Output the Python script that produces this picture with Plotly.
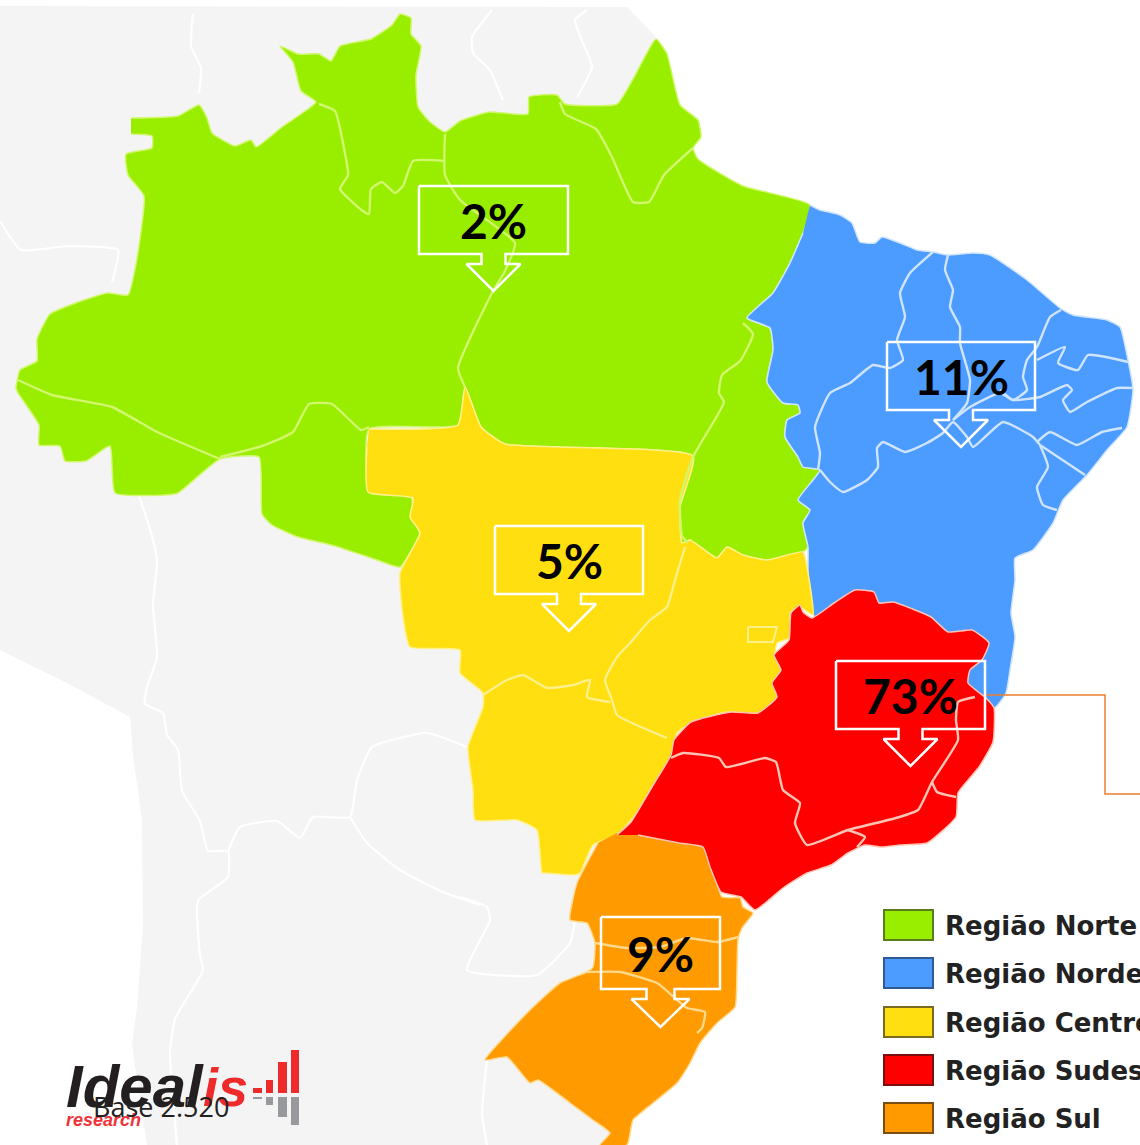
import plotly.graph_objects as go

# ---------- data ----------
REGION_NAMES = ["Região Norte", "Região Nordeste", "Região Centro-Oeste", "Região Sudeste", "Região Sul"]
REGION_PCT = [2, 11, 5, 73, 9]
BASE_LABEL = "Base 2.520"

NORTE = [(131,118),(178,116),(199,105),(207,118),(212,133),(235,146),(251,140),(256,147),(282,127),(301,114),(316,102),(301,91),(293,62),(280,46),(298,54),(319,54),(331,61),(340,46),(371,39),(392,25),(400,14),(411,18),(411,34),(421,46),(416,75),(418,107),(429,121),(445,132),(460,121),(489,112),(528,114),(529,97),(557,95),(565,104),(617,104),(633,79),(656,39),(667,54),(680,105),(698,120),(701,137),(693,148),(698,159),(743,186),(810,205),(803,233),(790,263),(773,293),(747,318),(770,328),(773,350),(767,382),(783,403),(798,405),(800,413),(787,420),(785,437),(798,457),(803,467),(820,470),(798,500),(810,510),(803,523),(808,547),(803,552),(767,560),(743,555),(727,547),(717,558),(690,540),(682,543),(680,507),(693,456),(505,444),(481,427),(465,387),(458,425),(369,429),(370,493),(411,496),(413,514),(418,529),(420,533),(400,567),(377,560),(335,546),(298,537),(272,525),(262,514),(259,457),(220,459),(178,493),(165,495),(115,493),(110,446),(86,461),(65,461),(60,446),(39,445),(39,425),(18,393),(16,388),(20,370),(37,361),(37,339),(50,314),(73,304),(107,293),(128,295),(136,264),(144,196),(128,175),(126,154),(152,148),(152,136),(131,134)]
NORDESTE = [(810,205),(820,210),(840,215),(852,223),(860,242),(875,243),(882,237),(900,243),(917,250),(933,252),(947,255),(973,253),(990,255),(1027,280),(1060,308),(1073,315),(1107,320),(1120,327),(1128,360),(1133,390),(1127,427),(1107,450),(1087,475),(1063,500),(1053,523),(1033,550),(1015,558),(1015,580),(1011,613),(1015,637),(1010,670),(1006,693),(994,708),(900,650),(813,615),(808,573),(808,547),(803,523),(810,510),(798,500),(820,470),(803,467),(798,457),(785,437),(787,420),(800,413),(798,405),(783,403),(767,382),(773,350),(770,328),(747,318),(773,293),(790,263),(803,233)]
CENTRO = [(369,429),(458,425),(465,387),(481,427),(505,444),(693,456),(680,507),(682,543),(690,540),(717,558),(727,547),(743,555),(767,560),(803,552),(808,573),(813,615),(800,607),(790,613),(792,637),(777,643),(775,657),(782,670),(773,683),(778,700),(760,715),(727,712),(693,722),(677,733),(672,755),(650,790),(637,813),(617,835),(593,845),(580,873),(575,875),(545,873),(542,873),(537,830),(517,820),(475,820),(473,790),(468,747),(483,707),(483,693),(460,673),(460,650),(410,647),(403,617),(400,573),(420,533),(410,517),(413,498),(368,492),(367,447)]
SUDESTE = [(617,835),(631,822),(652,787),(671,755),(674,740),(691,722),(731,712),(758,713),(777,697),(772,683),(781,670),(774,655),(789,640),(791,613),(800,605),(803,612),(812,618),(834,603),(855,590),(874,592),(879,603),(893,602),(931,617),(948,632),(972,630),(989,643),(982,660),(970,670),(968,683),(986,698),(994,708),(993,742),(979,767),(958,793),(956,817),(927,843),(900,845),(882,847),(865,845),(848,853),(831,865),(807,873),(783,888),(755,910),(741,897),(721,892),(710,867),(703,847),(679,843),(638,835)]
SUL = [(617,833),(640,833),(673,840),(703,847),(712,867),(722,897),(740,898),(743,907),(753,913),(742,928),(738,940),(737,970),(735,1007),(717,1023),(700,1043),(690,1063),(677,1083),(653,1103),(633,1120),(627,1145),(600,1145),(610,1133),(593,1120),(570,1103),(538,1080),(530,1083),(507,1057),(485,1060),(527,1013),(560,983),(587,972),(593,967),(595,943),(587,923),(570,920),(577,883),(587,863),(598,843)]
VIZINHOS = [(0,6),(627,7),(657,38),(700,200),(600,900),(610,1145),(147,1145),(132,1045),(137,1008),(143,926),(142,821),(133,754),(130,717),(67,683),(0,650)]

LINES_VIZINHOS = [
    [(139,496),(150,529),(157,560),(153,605),(157,657),(147,687),(145,704),(163,713),(167,735),(178,750),(182,791),(200,821),(208,851),(228,851),(228,877),(198,901),(200,955),(203,970),(175,1019),(170,1053),(177,1145)],
    [(228,851),(240,827),(277,821),(300,838),(313,817),(350,817),(357,780),(372,747),(427,733),(467,747)],
    [(350,817),(367,843),(400,870),(443,892),(480,905)],
    [(460,897),(487,907),(490,920),(467,970),(537,975),(570,943),(575,920)],
    [(487,1060),(482,1113),(487,1145)],
    [(193,14),(191,46),(201,68),(199,93)],
    [(0,221),(21,250),(68,246),(118,250),(112,282)],
    [(492,10),(472,37),(473,53),(490,70),(500,93),(503,100)],
    [(587,10),(575,20),(583,43),(592,67),(577,97)],
]
LINES_NORTE = [
    [(319,104),(335,111),(343,143),(348,175),(340,189),(363,211),(369,214),(371,189),(382,182),(395,193),(403,186),(413,161),(445,161)],
    [(445,134),(445,175),(460,200),(515,243),(505,271),(492,293),(458,368),(465,387)],
    [(560,102),(565,114),(596,129),(612,157),(633,202),(649,202),(664,175),(693,148)],
    [(18,380),(52,395),(112,407),(157,432),(220,459)],
    [(220,457),(262,446),(293,432),(309,404),(332,404),(361,430),(369,427)],
    [(743,323),(753,334),(740,361),(722,375),(719,393),(724,402),(693,457),(680,500),(682,536),(688,543)],
]
LINES_NORDESTE = [
    [(933,252),(910,273),(900,293),(905,317),(897,340),(903,360),(890,368),(873,365),(850,383),(830,393),(815,427),(820,453),(818,470)],
    [(948,255),(945,270),(953,290),(950,307),(960,327),(960,343),(970,380),(967,403),(953,420)],
    [(820,470),(830,482),(843,492),(867,480),(878,467),(877,448),(883,442),(905,452),(927,443),(943,433),(953,422),(967,437),(973,447),(1003,422),(1033,437),(1040,445)],
    [(1061,310),(1050,317),(1037,347),(1027,360),(1023,377),(1027,390),(1013,400),(1000,390)],
    [(953,420),(970,407),(1000,393),(1013,400),(1040,397),(1067,385),(1072,390),(1063,400),(1070,412),(1087,402),(1117,388),(1132,388)],
    [(1037,360),(1065,347),(1058,363),(1078,370),(1088,355),(1128,362)],
    [(1037,442),(1050,432),(1077,445),(1102,432),(1122,428)],
    [(1040,445),(1085,475)],
    [(1040,445),(1048,467),(1037,487),(1043,505),(1057,510)],
]
LINES_CENTRO = [
    [(685,547),(675,580),(667,607),(650,620),(630,643),(617,657),(605,680),(612,700),(617,715),(667,738)],
    [(483,695),(507,680),(523,675),(547,688),(573,685),(590,680),(587,697),(610,702)],
]
DF_OUTLINE = [(748,627),(777,627),(773,642),(748,642),(748,627)]
LINES_SUDESTE = [
    [(671,758),(683,753),(719,758),(726,767),(765,758),(776,762),(783,790),(800,803),(795,823),(807,845),(848,830),(896,818),(918,810),(932,782),(958,740),(956,720),(958,702),(975,697)],
    [(932,782),(937,792),(956,797)],
    [(848,830),(865,837),(857,847)],
]
LINES_SUL = [
    [(595,943),(627,948),(660,947),(687,938),(717,942),(738,937)],
    [(587,972),(620,972),(657,983),(687,1008),(705,1012),(702,1028),(697,1033)],
]

LEADER_X = [985, 1105, 1105, 1140]
LEADER_Y = [695, 695, 794, 794]

# callouts: left, top, right, bottom, stem half, head half, head y, tip y
CALLOUTS = [
    (419,186,568,254,12,27,264,291),
    (887,342,1035,410,12,27,420,447),
    (495,526,643,594,12,27,604,631),
    (836,661,985,729,12,27,739,766),
    (601,917,720,989,14,29,999,1027),
]

# ---------- style ----------
FILLS = ["#99EE00", "#4C9BFF", "#FFDF0F", "#FE0000", "#FF9A00"]
EDGES = ["#D2F76E", "#CFE4FF", "#FFF08A", "#FFC4B4", "#FFD98A"]
SWATCH_EDGE = ["#5C7A1E", "#2F5A96", "#7A6A1E", "#7A1010", "#7A4E12"]
GRAY = "#F4F4F5"
SMOOTH = dict(shape="spline", smoothing=0.45)

fig = go.Figure()

def xs(p): return [a for a, _ in p]
def ys(p): return [b for _, b in p]

def poly(p, fill, edge, w=1.5):
    fig.add_trace(go.Scatter(x=xs(p), y=ys(p), fill="toself", fillcolor=fill, mode="lines",
                             line=dict(color=edge, width=w, **SMOOTH), hoverinfo="skip", showlegend=False))

def lines(groups, color, w=2.4):
    for g in groups:
        fig.add_trace(go.Scatter(x=xs(g), y=ys(g), mode="lines", line=dict(color=color, width=w, **SMOOTH),
                                 hoverinfo="skip", showlegend=False))

fig.add_trace(go.Scatter(x=xs(VIZINHOS), y=ys(VIZINHOS), fill="toself", fillcolor=GRAY, mode="lines",
                         line=dict(color=GRAY, width=0), hoverinfo="skip", showlegend=False))
lines(LINES_VIZINHOS, "#FFFFFF", 2.2)
poly(NORTE, FILLS[0], EDGES[0])
poly(NORDESTE, FILLS[1], EDGES[1])
poly(CENTRO, FILLS[2], EDGES[2])
poly(SUL, FILLS[4], EDGES[4])
poly(SUDESTE, FILLS[3], EDGES[3])
lines(LINES_NORTE, EDGES[0])
lines(LINES_NORDESTE, EDGES[1])
lines(LINES_CENTRO, EDGES[2])
lines(LINES_SUDESTE, EDGES[3])
lines(LINES_SUL, EDGES[4])
fig.add_trace(go.Scatter(x=xs(DF_OUTLINE), y=ys(DF_OUTLINE), mode="lines", line=dict(color=EDGES[2], width=2),
                         hoverinfo="skip", showlegend=False))

fig.add_trace(go.Scatter(x=LEADER_X, y=LEADER_Y, mode="lines", line=dict(color="#ED7D31", width=1.5),
                         hoverinfo="skip", showlegend=False))

annotations = []
for (l, t, r, b, sh, hh, hy, ty), pct in zip(CALLOUTS, REGION_PCT):
    c = (l + r) / 2
    fig.add_trace(go.Scatter(
        x=[l, r, r, c + sh, c + sh, c + hh, c, c - hh, c - sh, c - sh, l, l],
        y=[t, t, b, b, hy, hy, ty, hy, hy, b, b, t],
        mode="lines", line=dict(color="#FFFFFF", width=2.5), hoverinfo="skip", showlegend=False))
    annotations.append(dict(x=c, y=(t + b) / 2, text=f"<b>{pct}%</b>", showarrow=False, xanchor="center",
                            yanchor="middle", font=dict(family="Lato", size=48, color="#000000")))

shapes = []
SWATCH_TOPS = [910, 958, 1007, 1055, 1103]
for top, name, f, e in zip(SWATCH_TOPS, REGION_NAMES, FILLS, SWATCH_EDGE):
    shapes.append(dict(type="rect", x0=884, x1=933, y0=top, y1=top + 30, fillcolor=f, line=dict(color=e, width=2), layer="above"))
    annotations.append(dict(x=943, y=top + 16, text=f"<b>{name}</b>", showarrow=False, xanchor="left", yanchor="middle",
                            font=dict(family="DejaVu Sans", size=26, color="#222222")))

# logo bars
LOGO_BARS_X = [(253,262),(266,273),(278,287),(291,299)]
LOGO_RED_TOP = [1088,1080,1062,1050]
LOGO_GRAY_BOTTOM = [1099,1105,1117,1125]
for (x0, x1), rt, gb in zip(LOGO_BARS_X, LOGO_RED_TOP, LOGO_GRAY_BOTTOM):
    shapes.append(dict(type="rect", x0=x0, x1=x1, y0=rt, y1=1093, fillcolor="#EE2A2A", line=dict(width=0), layer="above"))
    shapes.append(dict(type="rect", x0=x0, x1=x1, y0=1097, y1=gb, fillcolor="#98999D", line=dict(width=0), layer="above"))

annotations += [
    dict(x=64, y=1086, text="<b><i>Ideal</i></b>", showarrow=False, xanchor="left", yanchor="middle",
         font=dict(family="Liberation Sans", size=60, color="#231F20")),
    dict(x=201, y=1087, text="<b><i>is</i></b>", showarrow=False, xanchor="left", yanchor="middle",
         font=dict(family="Liberation Sans", size=54, color="#EE2A2A")),
    dict(x=64, y=1120, text="<b><i>research</i></b>", showarrow=False, xanchor="left", yanchor="middle",
         font=dict(family="Liberation Sans", size=18, color="#F0333A")),
    dict(x=91, y=1106, text=BASE_LABEL, showarrow=False, xanchor="left", yanchor="middle",
         font=dict(family="Open Sans", size=27, color="#222222")),
]

fig.update_layout(
    width=1140, height=1145, margin=dict(l=0, r=0, t=0, b=0),
    paper_bgcolor="#FFFFFF", plot_bgcolor="#FFFFFF", showlegend=False,
    xaxis=dict(range=[0, 1140], visible=False, fixedrange=True),
    yaxis=dict(range=[1145, 0], visible=False, fixedrange=True),
    shapes=shapes, annotations=annotations,
)

fig.write_html("out.html", config={"displayModeBar": False},
               post_script="document.body.style.margin='0';document.body.style.overflow='hidden';")
